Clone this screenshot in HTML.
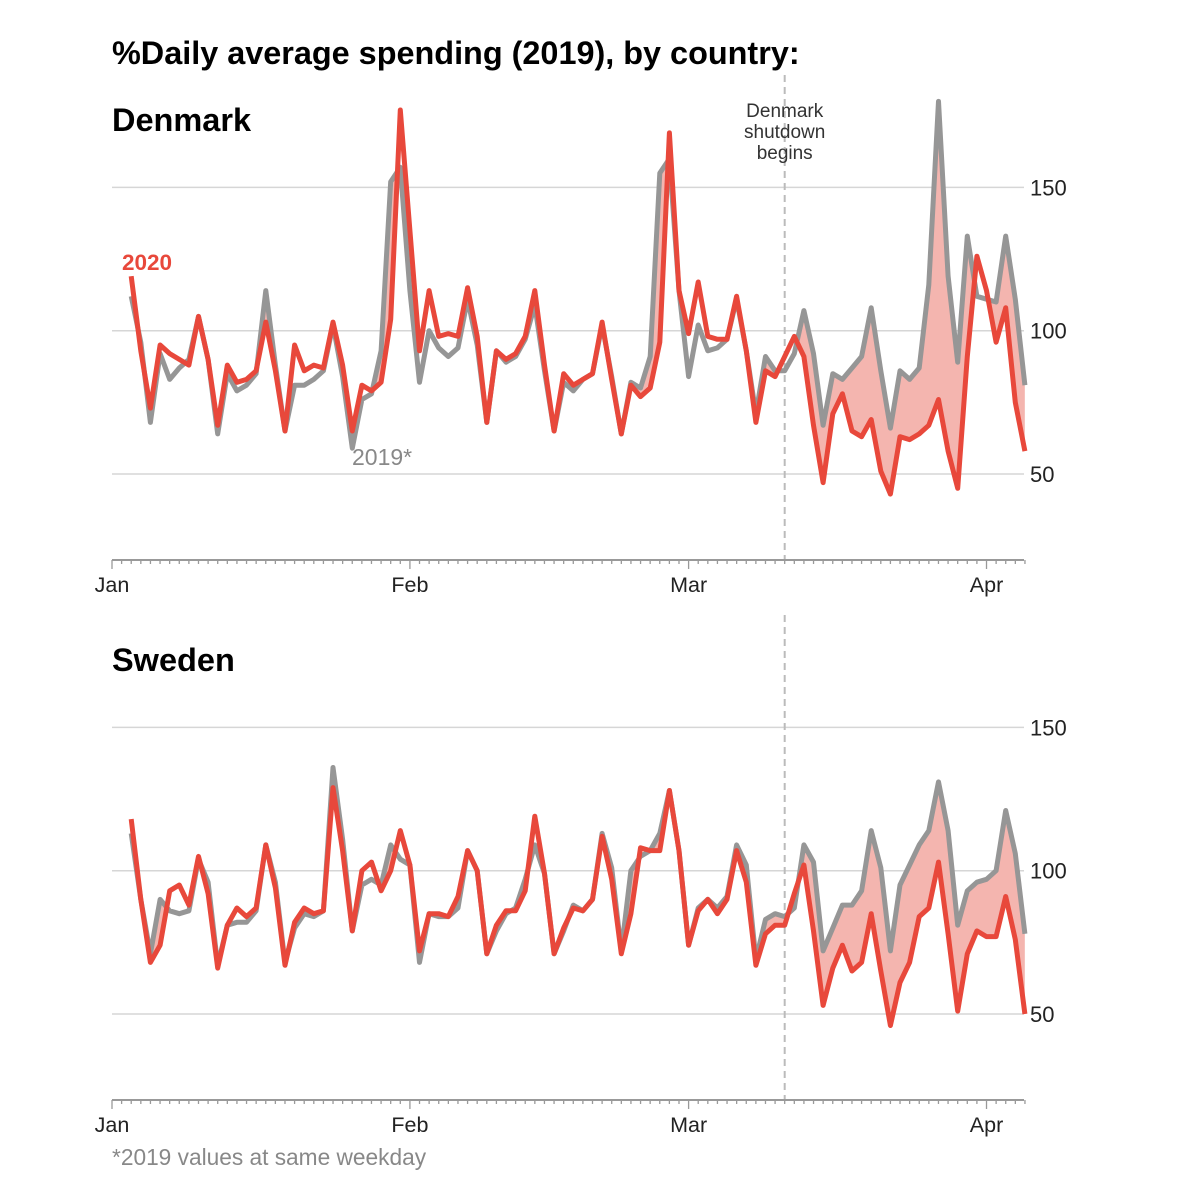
<!DOCTYPE html>
<html><head><meta charset="utf-8"><style>
html,body{margin:0;padding:0;background:#fff;}
svg{display:block;font-family:"Liberation Sans",sans-serif;}
</style></head><body>
<svg id="chart" width="1200" height="1200" viewBox="0 0 1200 1200" xmlns="http://www.w3.org/2000/svg">
<text x="112" y="64" font-size="32.4" font-weight="bold" fill="#000">%Daily average spending (2019), by country:</text>
<g id="panels"></g>
<text x="112" y="1165" font-size="22.7" fill="#888">*2019 values at same weekday</text>
</svg>
<script>
const startDay = 2;
const dk2020 = [119,93,73,95,92,90,88,105,90,67,88,82,83,86,103,86,65,95,86,88,87,103,88,65,81,79,82,104,177,135,93,114,98,99,98,115,98,68,93,90,92,98,114,88,65,85,81,83,85,103,83,64,81,77,80,96,169,114,99,117,98,97,97,112,93,68,86,84,91,98,91,67,47,71,78,65,63,69,51,43,63,62,64,67,76,58,45,91,126,114,96,108,75,58];
const dk2019 = [112,96,68,92,83,87,90,105,90,64,85,79,81,85,114,88,65,81,81,83,86,102,84,59,76,78,93,152,157,114,82,100,94,91,94,111,95,68,93,89,91,97,109,86,65,82,79,83,85,102,84,64,82,80,91,155,160,114,84,102,93,94,97,111,93,71,91,86,86,92,107,92,67,85,83,87,91,108,86,66,86,83,87,116,180,119,89,133,112,111,110,133,111,81];
const se2020 = [118,90,68,74,93,95,88,105,92,66,81,87,84,87,109,94,67,82,87,85,86,129,107,79,100,103,93,100,114,102,72,85,85,84,91,107,100,71,81,86,86,93,119,99,71,80,87,86,90,112,97,71,85,108,107,107,128,107,74,86,90,85,90,107,96,67,78,81,81,92,102,79,53,66,74,65,68,85,65,46,61,68,84,87,103,78,51,71,79,77,77,91,76,50];
const se2019 = [113,90,71,90,86,85,86,104,96,67,81,82,82,86,109,96,68,80,85,84,86,136,111,79,95,97,95,109,104,102,68,85,84,84,87,107,100,71,79,85,87,97,109,99,71,79,88,86,90,113,101,72,100,105,107,113,128,107,74,87,90,87,91,109,102,69,83,85,84,87,109,103,72,80,88,88,93,114,101,72,95,102,109,114,131,114,81,93,96,97,100,121,106,78];
const yTicks = [50,100,150];
const months = ["Jan","Feb","Mar","Apr"];
const monthDays = [0,31,60,91];
const shutdownDay = 70;

const NS="http://www.w3.org/2000/svg";
const x0=112, pxPerDay=9.61, lastDay=95;
function xs(d){return x0+d*pxPerDay;}
function mk(tag,attrs,parent){const e=document.createElementNS(NS,tag);for(const k in attrs)e.setAttribute(k,attrs[k]);parent.appendChild(e);return e;}
const root=document.getElementById('panels');

function panel(id,name,top,v2020,v2019,opts){
  const y50=top+474, u=2.866;
  const ys=v=>y50-(v-50)*u;
  const axisY=ys(20);
  const g=mk('g',{},root);
  
  
  const t=mk('text',{x:112,y:top+131,'font-size':32.5,'font-weight':'bold',fill:'#000'},g);
  t.textContent=name;
  
  
  yTicks.forEach(v=>{
    const l=mk('line',{x1:112,x2:1024,y1:ys(v),y2:ys(v),stroke:'#d6d6d6','stroke-width':1.5},g);
    
    
    const tl=mk('text',{x:1030,y:ys(v)+8,'font-size':22,fill:'#222'},g);
    tl.textContent=v;
    
    
  });
  const sl=mk('line',{x1:xs(shutdownDay),x2:xs(shutdownDay),y1:opts.dashTop,y2:axisY,stroke:'#bbb','stroke-width':2,'stroke-dasharray':'7,5'},g);
  
  
  const p19=v2019.map((v,i)=>[xs(startDay+i),ys(v)]);
  const p20=v2020.map((v,i)=>[xs(startDay+i),ys(v)]);
  const ptsStr=a=>a.map(p=>p[0].toFixed(1)+','+p[1].toFixed(1)).join(' ');
  const defs=mk('defs',{},g);
  const cp=mk('clipPath',{id:'clip-'+id},defs);
  const first=p20[0][0], last=p20[p20.length-1][0];
  mk('polygon',{points:first+','+(top-100)+' '+ptsStr(p20)+' '+last+','+(top-100)},cp);
  const area=mk('polygon',{points:first+','+(axisY)+' '+ptsStr(p19)+' '+last+','+(axisY),fill:'#f4b5af','clip-path':'url(#clip-'+id+')'},g);
  
  
  const l19=mk('polyline',{points:ptsStr(p19),fill:'none',stroke:'#969696','stroke-width':5,'stroke-linejoin':'round'},g);
  
  
  const l20=mk('polyline',{points:ptsStr(p20),fill:'none',stroke:'#e8483b','stroke-width':5,'stroke-linejoin':'round'},g);
  
  
  const ax=mk('line',{x1:112,x2:1024,y1:axisY,y2:axisY,stroke:'#999','stroke-width':2},g);
  
  
  for(let d=0; d<=lastDay; d++){
    const isM=monthDays.includes(d);
    const tk=mk('line',{x1:xs(d),x2:xs(d),y1:axisY,y2:axisY+(isM?9:4),stroke:'#999','stroke-width':1.3},g);
    
    
  }
  months.forEach((m,i)=>{
    const ml=mk('text',{x:xs(monthDays[i]),y:axisY+32,'font-size':21.5,fill:'#222','text-anchor':'middle'},g);
    ml.textContent=m;
    
    
  });
  return {ys};
}
const dk=panel('denmark','Denmark',0,dk2020,dk2019,{dashTop:75});
const se=panel('sweden','Sweden',540,se2020,se2019,{dashTop:615});

const svg=document.getElementById('chart');
const ann=mk('text',{x:xs(shutdownDay),'font-size':19,fill:'#333','text-anchor':'middle'},svg);


['Denmark','shutdown','begins'].forEach((s,i)=>{const ts=mk('tspan',{x:xs(shutdownDay),y:117+i*21},ann);ts.textContent=s;});
const lb20=mk('text',{x:122,y:270,'font-size':22.5,'font-weight':'bold',fill:'#e8483b'},svg);
lb20.textContent='2020';


const lb19=mk('text',{x:352,y:465,'font-size':23,fill:'#888'},svg);
lb19.textContent='2019*';


</script>
</body></html>
